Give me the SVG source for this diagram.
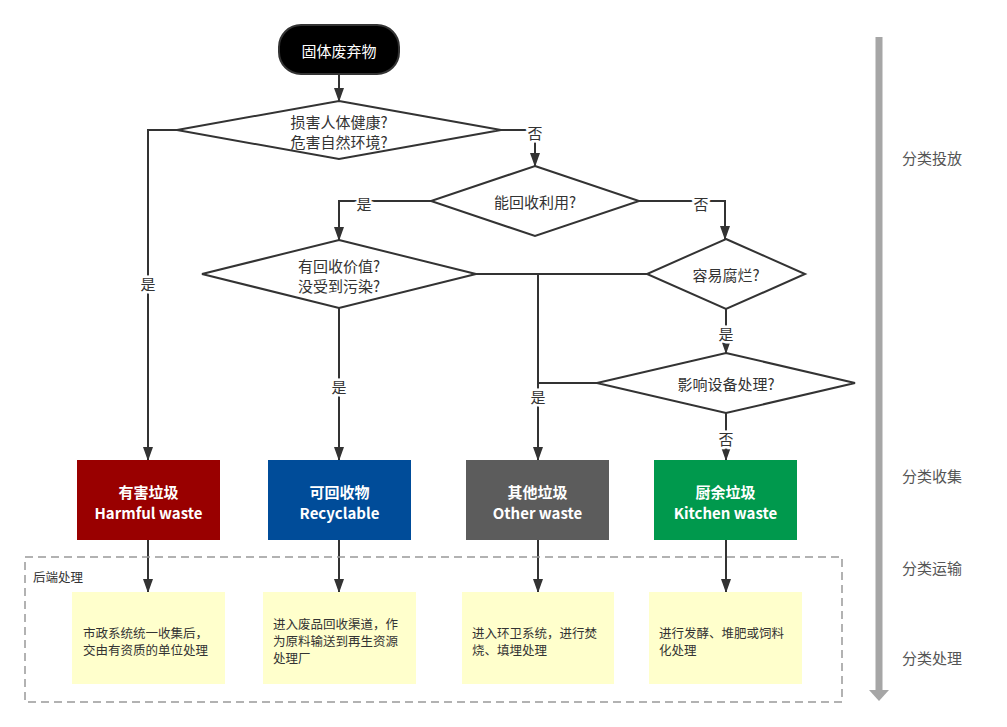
<svg xmlns="http://www.w3.org/2000/svg" width="1007" height="727" viewBox="0 0 1007 727">
<defs>
<marker id="arr" viewBox="0 0 14 10" refX="13" refY="5" markerWidth="14" markerHeight="10" markerUnits="userSpaceOnUse" orient="auto">
<path d="M0,0 L14,5 L0,10 z" fill="#333"/>
</marker>
<style>
text{font-family:"Noto Sans CJK SC","Noto Sans",sans-serif;dominant-baseline:central}
.d{fill:#fff;stroke:#333;stroke-width:2}
.dt{font-size:15px;fill:#333;text-anchor:middle}
.c{fill:none;stroke:#333;stroke-width:2}
.ca{fill:none;stroke:#333;stroke-width:2;marker-end:url(#arr)}
.lb{font-size:15px;fill:#333;text-anchor:middle;stroke:#fff;stroke-width:5;paint-order:stroke}
.bt{font-size:15px;font-weight:bold;fill:#fff;text-anchor:middle}
.note{fill:#FFFFCC}
.nt{font-size:12.5px;fill:#333}
.st{font-size:15px;fill:#555;text-anchor:middle}
</style>
</defs>
<rect width="1007" height="727" fill="#fff"/>

<g id="connectors">
<path class="ca" d="M339,74 V101"/>
<path class="ca" d="M177,130 H148 V460"/>
<path class="ca" d="M500,130 H535 V166"/>
<path class="ca" d="M431,201 H339 V240"/>
<path class="ca" d="M639,201 H725 V239"/>
<path class="ca" d="M339,308 V460"/>
<path class="ca" d="M476,274 H538 V460"/>
<path class="c" d="M647,274 H538"/>
<path class="c" d="M597,383 H538"/>
<path class="ca" d="M726,309 V353"/>
<path class="ca" d="M726,413 V460"/>
<path class="ca" d="M148,540 V592"/>
<path class="ca" d="M339,540 V592"/>
<path class="ca" d="M538,540 V592"/>
<path class="ca" d="M726,540 V592"/>
<text class="lb" x="148" y="283">是</text>
<text class="lb" x="535" y="132">否</text>
<text class="lb" x="364" y="203">是</text>
<text class="lb" x="701" y="203">否</text>
<text class="lb" x="339" y="386">是</text>
<text class="lb" x="538" y="396">是</text>
<text class="lb" x="726" y="333">是</text>
<text class="lb" x="726" y="438">否</text>
</g>

<g id="start">
<rect x="279" y="25" width="120" height="49" rx="22" ry="22" fill="#000" stroke="#333" stroke-width="2"/>
<text x="339" y="50" font-size="15" fill="#fff" text-anchor="middle">固体废弃物</text>
</g>

<g id="q1">
<polygon class="d" points="339,101 501,130 339,159 177,130"/>
<text class="dt" x="339" y="121">损害人体健康?</text>
<text class="dt" x="339" y="141">危害自然环境?</text>
</g>

<g id="q2">
<polygon class="d" points="535,166 639,201 535,236 431,201"/>
<text class="dt" x="535" y="201">能回收利用?</text>
</g>

<g id="q3">
<polygon class="d" points="339,240 476,274 339,308 202,274"/>
<text class="dt" x="339" y="265">有回收价值?</text>
<text class="dt" x="339" y="285">没受到污染?</text>
</g>

<g id="q4">
<polygon class="d" points="726,239 805,274 726,309 647,274"/>
<text class="dt" x="726" y="274">容易腐烂?</text>
</g>

<g id="q5">
<polygon class="d" points="726,353 855,383 726,413 597,383"/>
<text class="dt" x="726" y="383">影响设备处理?</text>
</g>

<g id="harmful">
<rect x="77" y="460" width="143" height="80" fill="#990000"/>
<text class="bt" x="148.5" y="491">有害垃圾</text>
<text class="bt" x="148.5" y="512">Harmful waste</text>
</g>
<g id="recyclable">
<rect x="268" y="460" width="143" height="80" fill="#004C99"/>
<text class="bt" x="339.5" y="491">可回收物</text>
<text class="bt" x="339.5" y="512">Recyclable</text>
</g>
<g id="other">
<rect x="466" y="460" width="143" height="80" fill="#5C5C5C"/>
<text class="bt" x="537.5" y="491">其他垃圾</text>
<text class="bt" x="537.5" y="512">Other waste</text>
</g>
<g id="kitchen">
<rect x="654" y="460" width="143" height="80" fill="#00994D"/>
<text class="bt" x="725.5" y="491">厨余垃圾</text>
<text class="bt" x="725.5" y="512">Kitchen waste</text>
</g>

<g id="backend">
<rect x="25" y="557" width="817" height="145" fill="none" stroke="#999" stroke-width="1.5" stroke-dasharray="8,5"/>
<text x="33" y="576" font-size="12.5" fill="#333">后端处理</text>
</g>

<g id="note1">
<rect class="note" x="72" y="592" width="153" height="92"/>
<text class="nt" x="83" y="632">市政系统统一收集后，</text>
<text class="nt" x="83" y="649">交由有资质的单位处理</text>
</g>
<g id="note2">
<rect class="note" x="263" y="592" width="153" height="92"/>
<text class="nt" x="273" y="623">进入废品回收渠道，作</text>
<text class="nt" x="273" y="640">为原料输送到再生资源</text>
<text class="nt" x="273" y="657">处理厂</text>
</g>
<g id="note3">
<rect class="note" x="462" y="592" width="152" height="92"/>
<text class="nt" x="472" y="632">进入环卫系统，进行焚</text>
<text class="nt" x="472" y="649">烧、填埋处理</text>
</g>
<g id="note4">
<rect class="note" x="649" y="592" width="153" height="92"/>
<text class="nt" x="659" y="632">进行发酵、堆肥或饲料</text>
<text class="nt" x="659" y="649">化处理</text>
</g>

<g id="timeline">
<line x1="879" y1="37" x2="879" y2="692" stroke="#A6A6A6" stroke-width="7"/>
<polygon points="869,690 889,690 879,701" fill="#A6A6A6"/>
<text class="st" x="932" y="157">分类投放</text>
<text class="st" x="932" y="475">分类收集</text>
<text class="st" x="932" y="567">分类运输</text>
<text class="st" x="932" y="657">分类处理</text>
</g>
</svg>
